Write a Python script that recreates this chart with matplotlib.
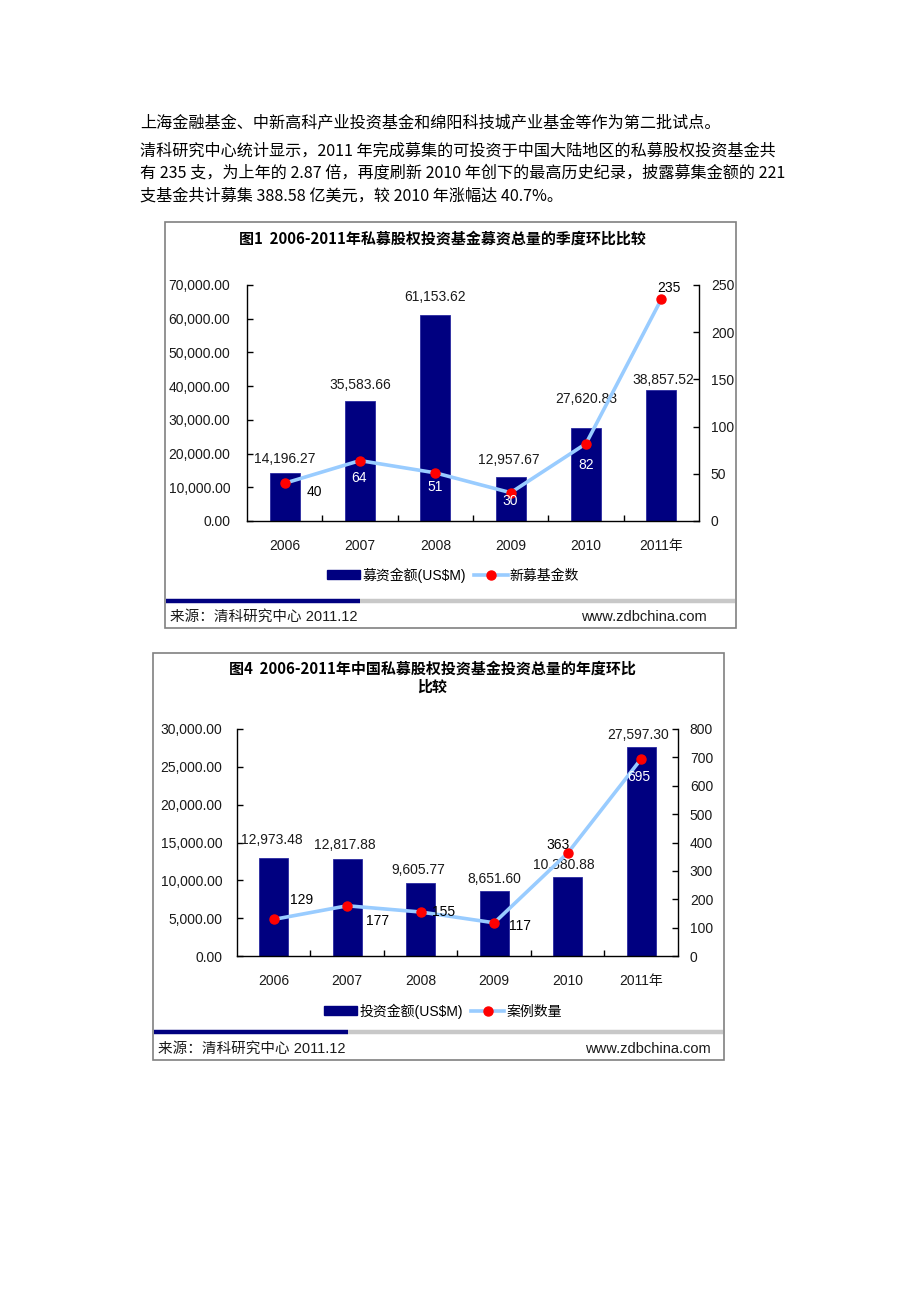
import numpy as np
import matplotlib
matplotlib.use("Agg")
import matplotlib.pyplot as plt
from matplotlib.patches import Rectangle, Patch
from matplotlib.lines import Line2D

# ---------------- data ----------------
years = ["2006", "2007", "2008", "2009", "2010", "2011年"]

fund_amount = [14196.27, 35583.66, 61153.62, 12957.67, 27620.83, 38857.52]
fund_count = [40, 64, 51, 30, 82, 235]

invest_amount = [12973.48, 12817.88, 9605.77, 8651.60, 10380.88, 27597.30]
invest_count = [129, 177, 155, 117, 363, 695]

left_ticks_1 = [0, 10000, 20000, 30000, 40000, 50000, 60000, 70000]
right_ticks_1 = [0, 50, 100, 150, 200, 250]
left_ticks_2 = [0, 5000, 10000, 15000, 20000, 25000, 30000]
right_ticks_2 = [0, 100, 200, 300, 400, 500, 600, 700, 800]

title_1 = ["图1  2006-2011年私募股权投资基金募资总量的季度环比比较"]
title_2 = ["图4  2006-2011年中国私募股权投资基金投资总量的年度环比", "比较"]
legend_1 = ["募资金额(US$M)", "新募基金数"]
legend_2 = ["投资金额(US$M)", "案例数量"]
source_text = "来源：清科研究中心 2011.12"
site_text = "www.zdbchina.com"

body_lines = [
    "上海金融基金、中新高科产业投资基金和绵阳科技城产业基金等作为第二批试点。",
    "清科研究中心统计显示，2011 年完成募集的可投资于中国大陆地区的私募股权投资基金共",
    "有 235 支，为上年的 2.87 倍，再度刷新 2010 年创下的最高历史纪录，披露募集金额的 221",
    "支基金共计募集 388.58 亿美元，较 2010 年涨幅达 40.7%。",
]

# ---------------- layout / style ----------------
W, H = 920, 1302
fig = plt.figure(figsize=(W / 100, H / 100), dpi=100)
fig.patch.set_facecolor("white")

def fx(x):
    return x / W

def fy(y):
    return 1 - y / H

CJK = ["Noto Sans CJK SC", "DejaVu Sans"]
SANS = ["Liberation Sans", "Noto Sans CJK SC", "DejaVu Sans"]
NAVY = "#000080"
LINEC = "#99ccff"
TXT = "#1a1a1a"

body_y = [123, 151, 173, 196]
for line, yy in zip(body_lines, body_y):
    fig.text(fx(140), fy(yy), line, ha="left", va="center", fontsize=11.6,
             family=CJK, color="black")


def draw_chart(frame, axrect, amounts, counts, lticks, rticks, lpad, rpad,
               bar_off, line_off, line_col, titles, title_y, title_x,
               legend_labels, legend_xy, sep_y, navy_end, foot_y,
               foot_left_x, foot_right_x):
    fl, ft, fr, fb = frame
    fig.patches.append(Rectangle((fx(fl), fy(fb)), fx(fr) - fx(fl), fy(ft) - fy(fb),
                                 transform=fig.transFigure, fill=False,
                                 edgecolor="#808080", lw=1.2, zorder=0))
    al, at, ar, ab = axrect
    ax = fig.add_axes([fx(al), fy(ab), fx(ar) - fx(al), fy(at) - fy(ab)])
    x = np.arange(len(years))
    ax.bar(x, amounts, width=0.4, color=NAVY, edgecolor="#2a2aa0", lw=0.6, zorder=2)
    ax.set_xlim(-0.5, len(years) - 0.5)
    ax.set_ylim(lticks[0], lticks[-1])
    ax.set_yticks(lticks)
    ax.set_yticklabels([f"{v:,.2f}" for v in lticks])
    ax.set_xticks(x)
    ax.set_xticklabels(years)
    ax.set_xticks(x[:-1] + 0.5, minor=True)
    ax.tick_params(axis="x", which="major", length=0, pad=13)
    ax.tick_params(axis="x", which="minor", length=4, direction="in", width=1)
    ax.tick_params(axis="y", which="major", length=4, direction="in", width=1,
                   pad=lpad)
    for lab in ax.get_xticklabels() + ax.get_yticklabels():
        lab.set_family(SANS)
        lab.set_fontsize(10)
        lab.set_color(TXT)
    ax.spines["top"].set_visible(False)
    ax.spines["right"].set_visible(False)
    for s in ("left", "bottom"):
        ax.spines[s].set_linewidth(1)
        ax.spines[s].set_color("black")

    for xi, v, (dx, dy) in zip(x, amounts, bar_off):
        ax.annotate(f"{v:,.2f}", (xi, v), xytext=(dx, -dy), textcoords="offset pixels",
                    ha="center", va="center", fontsize=10, family=SANS, color=TXT)

    ax2 = ax.twinx()
    ax2.plot(x, counts, color=LINEC, lw=2.6, marker="o", ms=6.5,
             mfc="#ff0000", mec="#ff0000", zorder=3, solid_joinstyle="round")
    ax2.set_ylim(rticks[0], rticks[-1])
    ax2.set_yticks(rticks)
    ax2.set_yticklabels([str(v) for v in rticks])
    ax2.tick_params(axis="y", length=4, direction="in", width=1, pad=rpad)
    for lab in ax2.get_yticklabels():
        lab.set_family(SANS)
        lab.set_fontsize(10)
        lab.set_color(TXT)
    ax2.spines["top"].set_visible(False)
    ax2.spines["left"].set_visible(False)
    ax2.spines["bottom"].set_visible(False)
    ax2.spines["right"].set_linewidth(1)
    ax2.spines["right"].set_color("black")

    for xi, v, (dx, dy), c in zip(x, counts, line_off, line_col):
        ax2.annotate(str(v), (xi, v), xytext=(dx, -dy), textcoords="offset pixels",
                     ha="center", va="center", fontsize=10, family=SANS, color=c)

    for t, yy in zip(titles, title_y):
        fig.text(fx(title_x), fy(yy), t, ha="center", va="center", fontsize=10.8,
                 family=CJK, weight="bold", color="black")

    handles = [Patch(facecolor=NAVY, edgecolor=NAVY),
               Line2D([0], [0], color=LINEC, lw=2.6, marker="o", ms=6.5,
                      mfc="#ff0000", mec="#ff0000")]
    fig.legend(handles, legend_labels, loc="center",
               bbox_to_anchor=(fx(legend_xy[0]), fy(legend_xy[1])), ncol=2,
               frameon=False, prop={"family": SANS, "size": 10},
               handlelength=2.4, handleheight=0.6, handletextpad=0.15,
               columnspacing=0.6)

    fig.lines.append(Line2D([fx(fl + 1), fx(navy_end)], [fy(sep_y), fy(sep_y)],
                            transform=fig.transFigure, color=NAVY, lw=3.2,
                            solid_capstyle="butt"))
    fig.lines.append(Line2D([fx(navy_end), fx(fr - 1)], [fy(sep_y), fy(sep_y)],
                            transform=fig.transFigure, color="#c8c8c8", lw=3.2,
                            solid_capstyle="butt"))
    fig.text(fx(foot_left_x), fy(foot_y), source_text, ha="left", va="center",
             fontsize=10.5, family=SANS, color=TXT)
    fig.text(fx(foot_right_x), fy(foot_y), site_text, ha="right", va="center",
             fontsize=10.5, family=SANS, color=TXT)


# chart 1
draw_chart(frame=(165, 222, 736, 628), axrect=(247, 285, 699, 521),
           amounts=fund_amount, counts=fund_count,
           lticks=left_ticks_1, rticks=right_ticks_1, lpad=12, rpad=8.5,
           bar_off=[(0, -14), (0, -16), (0, -18), (-2, -17), (0, -29), (2, -10)],
           line_off=[(30, 9), (-1, 17), (0, 14), (-1, 8), (0, 21), (8, -11)],
           line_col=["black", "white", "white", "white", "white", "black"],
           titles=title_1, title_y=[239], title_x=442,
           legend_labels=legend_1, legend_xy=(453, 575),
           sep_y=601, navy_end=360, foot_y=617,
           foot_left_x=170, foot_right_x=707)

# chart 2
draw_chart(frame=(153, 653, 724, 1060), axrect=(237, 729, 678, 956),
           amounts=invest_amount, counts=invest_count,
           lticks=left_ticks_2, rticks=right_ticks_2, lpad=10.5, rpad=8.5,
           bar_off=[(-2, -18), (-2, -14), (-2, -13), (0, -12), (-4, -12), (-3, -12)],
           line_off=[(28, -19), (30, 15), (23, 0), (26, 3), (-10, -8), (-2, 18)],
           line_col=["black", "black", "black", "black", "black", "white"],
           titles=title_2, title_y=[669, 687], title_x=432,
           legend_labels=legend_2, legend_xy=(443, 1011),
           sep_y=1032, navy_end=348, foot_y=1049,
           foot_left_x=158, foot_right_x=711)

fig.savefig("out.png", dpi=100, facecolor="white")
